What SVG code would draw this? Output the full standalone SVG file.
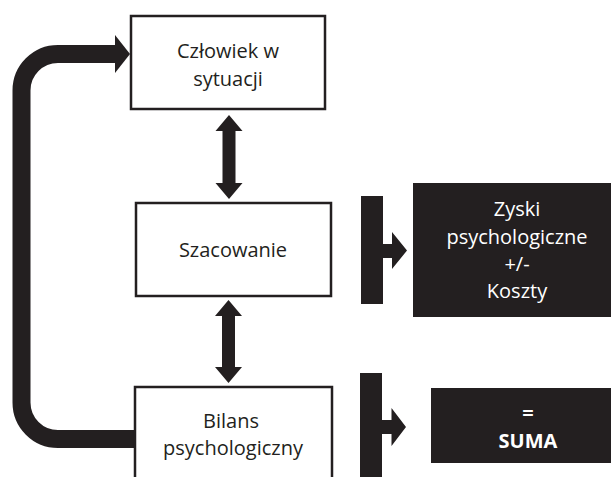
<svg xmlns="http://www.w3.org/2000/svg" width="611" height="477" viewBox="0 0 611 477">
<style>
.box{fill:#fff;stroke:#231f20;stroke-width:2.5}
.dark{fill:#231f20}
.t{font-family:"Open Sans","Noto Sans",sans-serif;font-size:20px;fill:#231f20;text-anchor:middle}
.w{fill:#fff}
.b{font-weight:bold}
</style>
<g id="connectors">
<path d="M134 439 H58 A36.5 36.5 0 0 1 21.5 402.5 V90.5 A36.5 36.5 0 0 1 58 54 H116" fill="none" stroke="#231f20" stroke-width="18"/>
<polygon class="dark" points="115,35 130,54 115,73"/>
<polygon class="dark" points="229,115 242.5,131 235.5,131 235.5,183 242.5,183 229,199 215.5,183 222.5,183 222.5,131 215.5,131"/>
<polygon class="dark" points="228.5,300 242,316 235,316 235,367 242,367 228.5,383 215,367 222,367 222,316 215,316"/>
<polygon class="dark" points="361,196 383,196 383,244 392,244 392,232 407,250.5 392,269 392,258 383,258 383,304 361,304"/>
<polygon class="dark" points="360,373 382,373 382,420 391.5,420 391.5,408 406,427 391.5,446 391.5,434 382,434 382,480 360,480"/>
</g>
<g id="czlowiek">
<rect class="box" x="131" y="16" width="194" height="93"/>
<text class="t" x="228" y="58">Człowiek w</text>
<text class="t" x="228" y="86">sytuacji</text>
</g>
<g id="szacowanie">
<rect class="box" x="136" y="203" width="195" height="93"/>
<text class="t" x="233" y="257">Szacowanie</text>
</g>
<g id="zyski">
<rect class="dark" x="413" y="183" width="210" height="134"/>
<text class="t w" x="517" y="216">Zyski</text>
<text class="t w" x="517" y="244">psychologiczne</text>
<text class="t w" x="517" y="271">+/-</text>
<text class="t w" x="517" y="298">Koszty</text>
</g>
<g id="bilans">
<rect class="box" x="135" y="387" width="197" height="110"/>
<text class="t" x="231" y="428">Bilans</text>
<text class="t" x="233" y="455">psychologiczny</text>
</g>
<g id="suma">
<rect class="dark" x="431" y="388" width="194" height="75"/>
<text class="t w b" x="528" y="420">=</text>
<text class="t w b" x="528" y="448">SUMA</text>
</g>
</svg>
